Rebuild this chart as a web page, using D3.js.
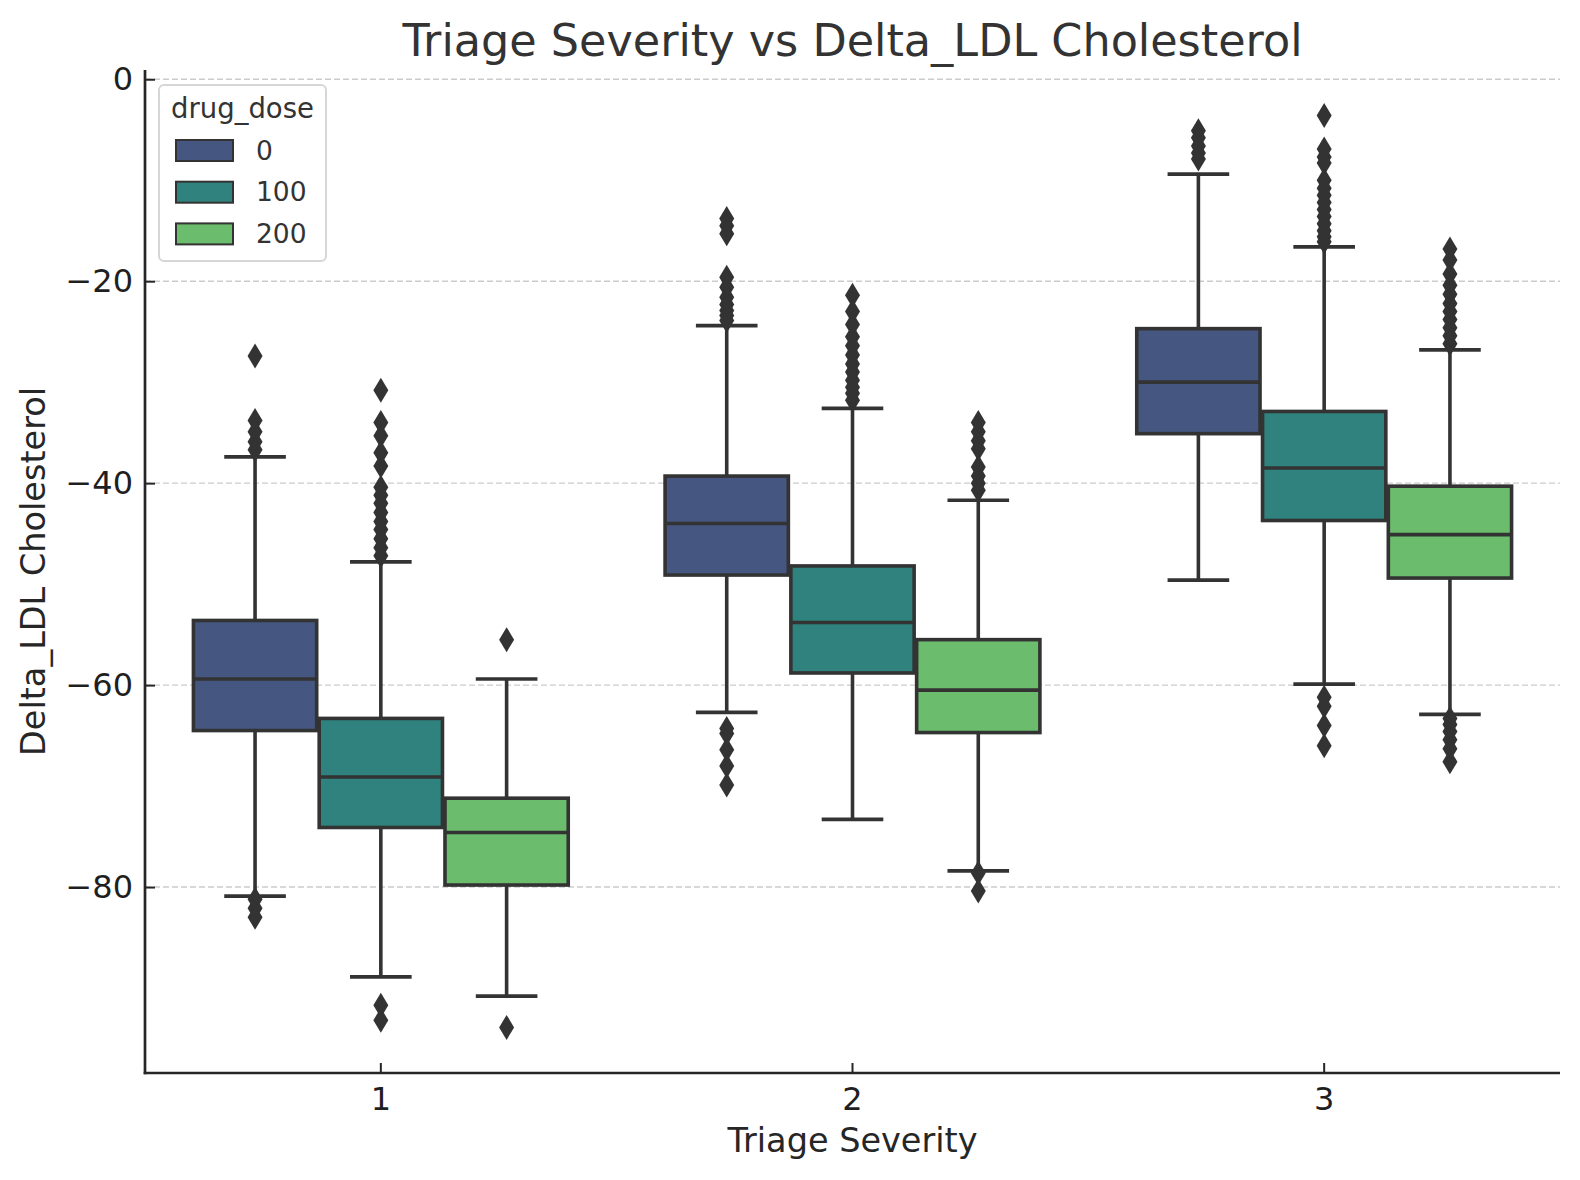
<!DOCTYPE html>
<html>
<head>
<meta charset="utf-8">
<script src="https://cdn.jsdelivr.net/npm/d3@7"></script>
<style>
  body { margin: 0; background: #fff; }
  text { font-family: "DejaVu Sans", sans-serif; }
</style>
</head>
<body>
<script>
// -- data --

var severities = ["1", "2", "3"];
var doses = ["0", "100", "200"];
var doseColors = ["#455681", "#2f827d", "#6bbc6d"];

// rows: severity, columns: dose
var q1 = [[-64.5, -74.1, -79.8], [-49.1, -58.8, -64.7], [-35.1, -43.7, -49.4]];
var medians = [[-59.4, -69.1, -74.6], [-44.0, -53.8, -60.5], [-30.0, -38.5, -45.1]];
var q3 = [[-53.6, -63.3, -71.2], [-39.3, -48.2, -55.5], [-24.7, -32.9, -40.3]];
var whiskerLow = [[-80.9, -88.9, -90.8], [-62.7, -73.3, -78.4], [-49.6, -59.9, -62.9]];
var whiskerHigh = [[-37.4, -47.8, -59.4], [-24.4, -32.6, -41.7], [-9.4, -16.6, -26.8]];

var outliers = [
    [
        [-27.4, -33.8, -34.9, -35.9, -36.7, -81.2, -82.1, -83.0],
        [-30.8, -34.0, -35.3, -37.0, -38.3, -40.4, -41.2, -42.0, -42.9, -43.8, -44.6, -45.5, -46.4, -47.2, -91.7, -93.2],
        [-55.5, -93.9]
    ],
    [
        [-13.8, -14.5, -15.3, -19.6, -20.6, -21.6, -22.3, -22.9, -23.4, -23.9, -64.3, -64.8, -66.4, -68.0, -69.9],
        [-21.4, -23.0, -24.3, -25.5, -26.4, -27.3, -28.2, -29.0, -29.8, -30.5, -31.1, -31.8],
        [-34.0, -34.9, -35.8, -36.6, -38.4, -39.3, -40.0, -40.7, -78.6, -80.4]
    ],
    [
        [-5.1, -5.8, -6.6, -7.3, -7.9],
        [-3.6, -6.9, -7.7, -8.3, -10.0, -10.8, -11.5, -12.2, -12.9, -13.6, -14.3, -15.0, -15.6, -16.1, -61.2, -62.1, -64.0, -66.0],
        [-16.8, -17.9, -19.3, -20.4, -21.3, -22.2, -23.0, -23.8, -24.6, -25.4, -26.2, -63.3, -63.9, -64.6, -65.4, -66.3, -67.6]
    ]
];

var yTicks = [0, -20, -40, -60, -80];

// -- layout --

var width = 1580;
var height = 1180;
// (not "top": that name is taken by window.top)
var mLeft = 145, mRight = 1560, mTop = 70, mBottom = 1073;

var lineColor = "#333333";
var sw = 3.6;

var svg = d3.select("body").append("svg")
    .attr("width", width)
    .attr("height", height);

// y domain like matplotlib autoscale: data range + 5% margins
var allValues = [];
outliers.forEach(function (row) { row.forEach(function (o) { allValues = allValues.concat(o); }); });
whiskerLow.forEach(function (r) { allValues = allValues.concat(r); });
whiskerHigh.forEach(function (r) { allValues = allValues.concat(r); });
var vmin = d3.min(allValues), vmax = d3.max(allValues);
var pad = (vmax - vmin) * 0.05;

var y = d3.scaleLinear()
    .domain([vmin - pad, vmax + pad])
    .range([mBottom, mTop]);

var x = d3.scaleBand()
    .domain(severities)
    .range([mLeft, mRight])
    .paddingInner(0.2)
    .paddingOuter(0.1);

var xHue = d3.scaleBand()
    .domain(doses)
    .range([0, x.bandwidth()]);

// grid
svg.append("g")
    .selectAll("line")
    .data(yTicks)
    .join("line")
    .attr("x1", mLeft).attr("x2", mRight)
    .attr("y1", function (d) { return y(d); })
    .attr("y2", function (d) { return y(d); })
    .style("stroke", "#cccccc")
    .style("stroke-width", 1.4)
    .style("stroke-dasharray", "6,3");

// boxes
var boxW = xHue.bandwidth() * 0.98;

severities.forEach(function (sev, si) {
    doses.forEach(function (dose, di) {
        var cx = x(sev) + xHue(dose) + xHue.bandwidth() / 2;
        var g = svg.append("g");

        // whiskers
        g.append("line")
            .attr("x1", cx).attr("x2", cx)
            .attr("y1", y(q3[si][di])).attr("y2", y(whiskerHigh[si][di]));
        g.append("line")
            .attr("x1", cx).attr("x2", cx)
            .attr("y1", y(q1[si][di])).attr("y2", y(whiskerLow[si][di]));
        // caps
        [whiskerHigh[si][di], whiskerLow[si][di]].forEach(function (v) {
            g.append("line")
                .attr("x1", cx - boxW / 4).attr("x2", cx + boxW / 4)
                .attr("y1", y(v)).attr("y2", y(v));
        });
        g.selectAll("line")
            .style("stroke", lineColor)
            .style("stroke-width", sw);

        // box
        g.append("rect")
            .attr("x", cx - boxW / 2)
            .attr("y", y(q3[si][di]))
            .attr("width", boxW)
            .attr("height", y(q1[si][di]) - y(q3[si][di]))
            .style("fill", doseColors[di])
            .style("stroke", lineColor)
            .style("stroke-width", sw);

        // median
        g.append("line")
            .attr("x1", cx - boxW / 2).attr("x2", cx + boxW / 2)
            .attr("y1", y(medians[si][di])).attr("y2", y(medians[si][di]))
            .style("stroke", lineColor)
            .style("stroke-width", sw);

        // fliers, thin diamonds
        g.selectAll("path.flier")
            .data(outliers[si][di])
            .join("path")
            .attr("class", "flier")
            .attr("d", function (v) {
                var py = y(v), hw = 7.5, hh = 12.5;
                return "M" + cx + "," + (py - hh) + "L" + (cx + hw) + "," + py +
                    "L" + cx + "," + (py + hh) + "L" + (cx - hw) + "," + py + "Z";
            })
            .style("fill", lineColor);
    });
});

// axes
var yAxis = d3.axisLeft(y)
    .tickValues(yTicks)
    .tickSize(-10)
    .tickPadding(12)
    .tickFormat(function (d) { return d < 0 ? "\u2212" + Math.abs(d) : d; });

var gy = svg.append("g")
    .attr("transform", "translate(" + mLeft + ",0)")
    .call(yAxis);
gy.select(".domain").remove();
gy.selectAll("line").style("stroke", "#262626").style("stroke-width", 2);
gy.selectAll("text")
    .style("font-family", "DejaVu Sans")
    .style("font-size", "32px")
    .style("fill", "#1f1f1f");

var xAxis = d3.axisBottom(x)
    .tickSize(-10)
    .tickPadding(14);

var gx = svg.append("g")
    .attr("transform", "translate(0," + mBottom + ")")
    .call(xAxis);
gx.select(".domain").remove();
gx.selectAll("line").style("stroke", "#262626").style("stroke-width", 2);
gx.selectAll("text")
    .style("font-family", "DejaVu Sans")
    .style("font-size", "32px")
    .style("fill", "#1f1f1f");

// spines
svg.append("line")
    .attr("x1", mLeft).attr("x2", mLeft)
    .attr("y1", mTop).attr("y2", mBottom + 1.3)
    .style("stroke", "#262626").style("stroke-width", 2.7);
svg.append("line")
    .attr("x1", mLeft - 1.3).attr("x2", mRight)
    .attr("y1", mBottom).attr("y2", mBottom)
    .style("stroke", "#262626").style("stroke-width", 2.7);

// labels
svg.append("text")
    .attr("x", (mLeft + mRight) / 2).attr("y", 56)
    .attr("text-anchor", "middle")
    .style("font-size", "44.5px")
    .style("fill", "#333333")
    .text("Triage Severity vs Delta_LDL Cholesterol");

svg.append("text")
    .attr("x", (mLeft + mRight) / 2).attr("y", 1152)
    .attr("text-anchor", "middle")
    .style("font-size", "33.5px")
    .style("fill", "#262626")
    .text("Triage Severity");

svg.append("text")
    .attr("transform", "translate(45," + ((mTop + mBottom) / 2) + ") rotate(-90)")
    .attr("text-anchor", "middle")
    .style("font-size", "33.5px")
    .style("fill", "#262626")
    .text("Delta_LDL Cholesterol");

// legend
var lg = svg.append("g");
lg.append("rect")
    .attr("x", 159).attr("y", 85)
    .attr("width", 167).attr("height", 176)
    .attr("rx", 5).attr("ry", 5)
    .style("fill", "white")
    .style("fill-opacity", 0.8)
    .style("stroke", "#d6d6d6")
    .style("stroke-width", 2);
lg.append("text")
    .attr("x", 171).attr("y", 118)
    .style("font-size", "27.5px")
    .style("fill", "#333333")
    .text("drug_dose");
doses.forEach(function (dose, i) {
    var ry = 140 + i * 41.7;
    lg.append("rect")
        .attr("x", 176).attr("y", ry)
        .attr("width", 57).attr("height", 21)
        .style("fill", doseColors[i])
        .style("stroke", lineColor)
        .style("stroke-width", 2);
    lg.append("text")
        .attr("x", 256).attr("y", ry + 19.5)
        .style("font-size", "26.5px")
        .style("fill", "#333333")
        .text(dose);
});
</script>
</body>
</html>
